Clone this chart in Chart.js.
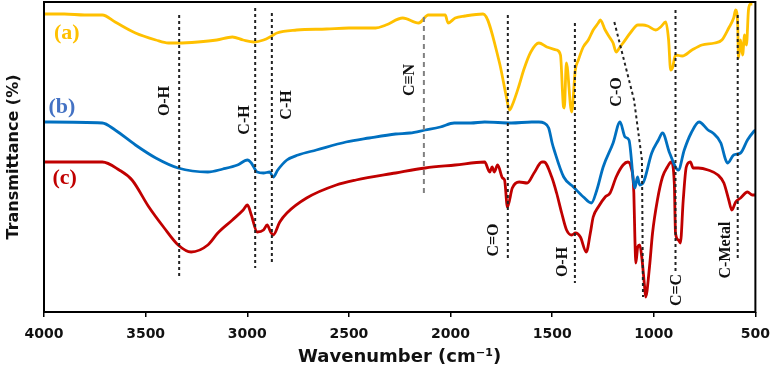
<!DOCTYPE html>
<html>
<head>
<meta charset="utf-8">
<script src="https://cdn.jsdelivr.net/npm/chart.js@4.4.1/dist/chart.umd.min.js"></script>
<style>
  html, body { margin: 0; padding: 0; background: #fff; }
  #wrap { width: 779px; height: 371px; position: relative; }
</style>
</head>
<body>
<div id="wrap"><canvas id="ftirChart"></canvas></div>
<script>
// spectrum (a) - yellow
const waveA = [4000, 3900, 3800, 3713, 3650, 3550, 3450, 3388, 3340, 3243, 3150, 3073, 3020, 2966, 2920, 2880, 2854, 2757, 2610, 2500,
    2368, 2318, 2235, 2157, 2109, 2026, 2012, 1977, 1929, 1840, 1760, 1725, 1710, 1696, 1662, 1640, 1605, 1565, 1526, 1478,
    1459, 1444, 1440, 1430, 1404, 1386, 1371, 1347, 1322, 1298, 1273, 1263, 1239, 1215, 1200, 1185, 1166, 1151, 1112, 1078,
    1054, 1030, 990, 966, 941, 927, 917, 908, 893, 860, 812, 763, 700, 665, 631, 607, 597, 587, 583, 573,
    563, 553, 544, 534, 524, 515];
const transA = [298, 298, 297, 297, 290, 279, 272, 269, 269, 270, 272, 275, 272, 270, 272, 276, 279, 282, 283, 284,
    284, 287, 294, 289, 297, 297, 289, 294, 296, 298, 250, 215, 202, 207, 227, 242, 260, 269, 265, 262,
    257, 205, 204, 249, 200, 242, 252, 265, 272, 282, 289, 292, 282, 274, 269, 260, 265, 269, 280, 287,
    287, 286, 282, 285, 290, 272, 242, 244, 257, 256, 262, 267, 269, 272, 284, 294, 302, 287, 254, 272,
    257, 277, 267, 302, 308, 308];

// spectrum (b) - blue
const waveB = [4000, 3713, 3650, 3550, 3450, 3340, 3194, 3120, 3048, 2999, 2980, 2951, 2920, 2890, 2872, 2850, 2805, 2750, 2660, 2514,
    2400, 2270, 2200, 2124, 2050, 1982, 1900, 1832, 1700, 1600, 1565, 1540, 1517, 1500, 1490, 1443, 1395, 1346, 1307, 1280,
    1249, 1200, 1166, 1141, 1122, 1093, 1080, 1069, 1050, 1010, 977, 957, 922, 879, 850, 816, 777, 733, 709, 670,
    646, 636, 607, 573, 539, 510, 500];
const transB = [190, 189, 182, 167, 154, 144, 140, 143, 147, 152, 149, 140, 139, 140, 135, 142, 152, 157, 162, 170,
    174, 178, 179, 182, 185, 189, 189, 190, 189, 190, 190, 189, 184, 169, 162, 135, 125, 115, 109, 122,
    145, 169, 190, 175, 172, 124, 135, 127, 130, 159, 172, 179, 159, 142, 162, 179, 190, 182, 179, 169,
    152, 149, 157, 159, 172, 180, 182];

// spectrum (c) - red
const waveC = [4000, 3713, 3630, 3567, 3484, 3412, 3340, 3276, 3194, 3145, 3073, 3020, 2999, 2980, 2951, 2920, 2902, 2885, 2872, 2840,
    2805, 2708, 2562, 2465, 2270, 2124, 1977, 1832, 1807, 1795, 1785, 1768, 1744, 1734, 1720, 1696, 1662, 1623, 1589, 1550,
    1540, 1502, 1478, 1453, 1429, 1404, 1385, 1361, 1332, 1312, 1298, 1273, 1239, 1215, 1185, 1151, 1127, 1112, 1098, 1093,
    1088, 1079, 1069, 1059, 1045, 1040, 1021, 1006, 982, 957, 933, 914, 899, 893, 879, 869, 855, 840, 820, 806,
    781, 733, 684, 655, 631, 616, 597, 573, 539, 515, 500];
const transC = [150, 150, 142, 132, 105, 85, 67, 60, 67, 79, 92, 102, 107, 97, 80, 82, 87, 80, 77, 90,
    99, 114, 127, 132, 139, 144, 147, 150, 140, 145, 140, 147, 134, 132, 105, 124, 130, 129, 139, 150,
    150, 135, 119, 99, 82, 77, 79, 75, 60, 79, 95, 105, 115, 119, 135, 147, 150, 145, 119, 75,
    49, 65, 67, 55, 25, 15, 45, 79, 112, 135, 145, 150, 129, 79, 72, 69, 112, 145, 150, 144,
    144, 142, 137, 129, 112, 102, 110, 114, 120, 117, 117];

// band markers (dashed guide lines)
const markerWave = [3335, 2961, 2879, 2131, 1718, 1388, 893, 587];
const markerTop = [297, 304, 299, 295, 297, 289, 302, 297];
const markerBottom = [35, 44, 47, 117, 54, 29, 40, 54];
const markerGray = [false, false, false, true, false, false, false, false];
// C-O guide bends
const coWave = [1194, 1097, 1058, 1053];
const coTrans = [290, 212, 152, 15];

// band labels
const bandText = ['O-H', 'C-H', 'C-H', 'C\u2261N', 'C-O', 'C=O', 'O-H', 'C=C', 'C-Metal'];
const bandWave = [3403, 3010, 2806, 2199, 1180, 1786, 1447, 888, 646];
const bandTrans = [211, 192, 207, 232, 220, 72, 50, 22, 62];

// series tags
const tagText = ['(a)', '(b)', '(c)'];
const tagWave = [3888, 3912, 3898];
const tagTrans = [279, 205, 134];
const tagColor = ['#FFC000', '#4472C4', '#C00000'];

const xTicks = [4000, 3500, 3000, 2500, 2000, 1500, 1000, 500];

function toPoints(xs, ys) {
    return xs.map(function (x, i) { return { x: x, y: ys[i] }; });
}

function curve(xs, ys, color) {
    return {
        data: toPoints(xs, ys),
        borderColor: color,
        borderWidth: 2.8,
        pointRadius: 0,
        cubicInterpolationMode: 'monotone',
        order: 1
    };
}

const datasets = [
    curve(waveA, transA, '#FFC000'),
    curve(waveB, transB, '#0070C0'),
    curve(waveC, transC, '#C00000')
];

markerWave.forEach(function (w, i) {
    datasets.push({
        data: [{ x: w, y: markerTop[i] }, { x: w, y: markerBottom[i] }],
        borderColor: markerGray[i] ? '#808080' : '#222',
        borderWidth: 2,
        borderDash: markerGray[i] ? [5, 4] : [3, 3],
        pointRadius: 0,
        order: 0
    });
});
datasets.push({
    data: toPoints(coWave, coTrans),
    borderColor: '#222',
    borderWidth: 2,
    borderDash: [3, 3],
    pointRadius: 0,
    order: 0
});

const annotationPlugin = {
    id: 'annotations',
    afterDatasetsDraw: function (chart) {
        const ctx = chart.ctx;
        const xs = chart.scales.x;
        const ys = chart.scales.y;
        const area = chart.chartArea;

        ctx.save();
        ctx.fillStyle = '#111';
        ctx.font = 'bold 16px "Liberation Serif", "DejaVu Serif", serif';
        ctx.textAlign = 'center';
        ctx.textBaseline = 'middle';
        bandText.forEach(function (t, i) {
            ctx.save();
            ctx.translate(xs.getPixelForValue(bandWave[i]), ys.getPixelForValue(bandTrans[i]));
            ctx.rotate(-Math.PI / 2);
            ctx.fillText(t, 0, 0);
            ctx.restore();
        });

        ctx.font = 'bold 22px "Liberation Serif", "DejaVu Serif", serif';
        tagText.forEach(function (t, i) {
            ctx.fillStyle = tagColor[i];
            ctx.fillText(t, xs.getPixelForValue(tagWave[i]), ys.getPixelForValue(tagTrans[i]));
        });

        ctx.strokeStyle = '#000';
        ctx.lineWidth = 2;
        ctx.strokeRect(area.left, area.top, area.right - area.left, area.bottom - area.top);
        ctx.restore();
    }
};

new Chart(document.getElementById('ftirChart'), {
    type: 'line',
    data: { datasets: datasets },
    options: {
        responsive: true,
        maintainAspectRatio: false,
        animation: false,
        layout: { padding: { left: 0, right: 16, top: 2, bottom: 0 } },
        plugins: {
            legend: { display: false },
            tooltip: { enabled: false }
        },
        scales: {
            x: {
                type: 'linear',
                reverse: true,
                min: 500,
                max: 4000,
                afterBuildTicks: function (scale) {
                    scale.ticks = xTicks.map(function (v) { return { value: v }; });
                },
                afterFit: function (scale) { scale.height = 59; },
                ticks: {
                    color: '#111',
                    padding: 9,
                    maxRotation: 0,
                    callback: function (value) { return String(value); },
                    font: { family: '"DejaVu Sans", Verdana, sans-serif', size: 14, weight: 'bold' }
                },
                grid: { drawOnChartArea: false, drawTicks: true, tickLength: 5, color: '#000', lineWidth: 1.5 },
                border: { display: false },
                title: {
                    display: true,
                    text: 'Wavenumber (cm\u207B\u00B9)',
                    color: '#111',
                    padding: { top: 0, bottom: 3 },
                    font: { family: '"DejaVu Sans", Verdana, sans-serif', size: 18, weight: 'bold' }
                }
            },
            y: {
                min: 0,
                max: 310,
                afterFit: function (scale) { scale.width = 44; },
                ticks: { display: false },
                grid: { display: false },
                border: { display: false },
                title: {
                    display: true,
                    text: 'Transmittance (%)',
                    color: '#111',
                    padding: { top: 4, bottom: 0 },
                    font: { family: '"DejaVu Sans", Verdana, sans-serif', size: 16, weight: 'bold' }
                }
            }
        }
    },
    plugins: [annotationPlugin]
});
</script>
</body>
</html>
